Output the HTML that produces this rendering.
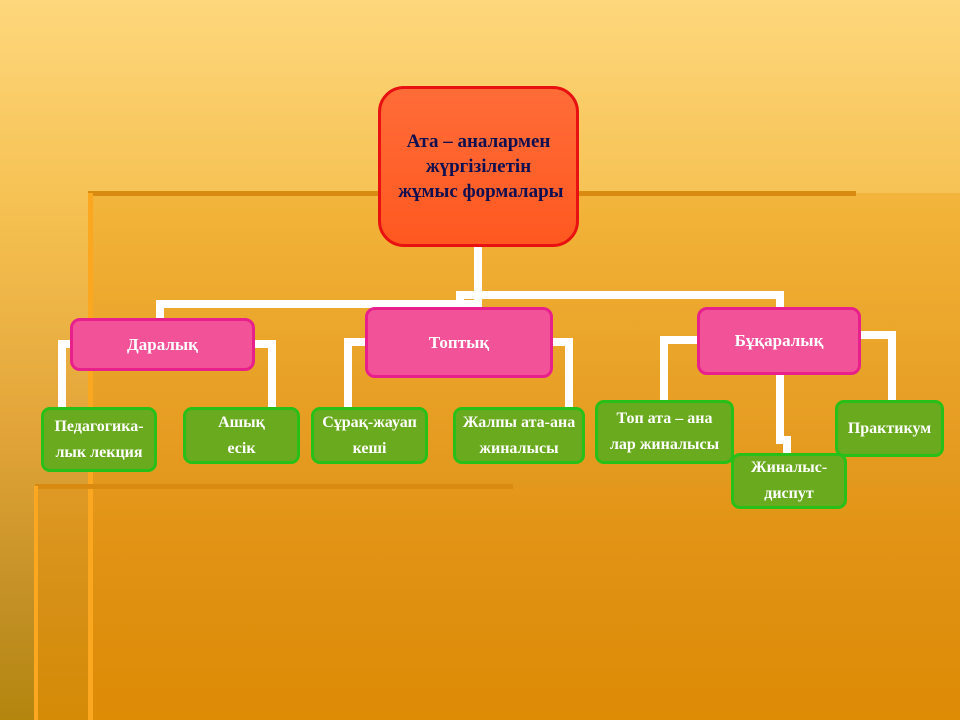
<!DOCTYPE html>
<html><head><meta charset="utf-8"><style>
body{margin:0;width:960px;height:720px;overflow:hidden;position:relative;font-family:"Liberation Serif",serif;
background:linear-gradient(180deg,#fed77c 0%,#f5c050 30%,#e2a438 60%,#c18f24 85%,#b4860e 100%);}
.abs{position:absolute;box-sizing:border-box}
.ov1{left:90px;top:193px;width:870px;height:527px;background:linear-gradient(180deg,rgba(240,170,40,.55),rgba(225,140,10,.85));}
.ov2{left:35px;top:486px;width:925px;height:234px;background:linear-gradient(180deg,rgba(230,150,25,.5),rgba(222,140,5,.8));}
.ln{background:#d98a10}
.w{background:#fff}
.box{display:flex;align-items:center;justify-content:center;text-align:center;font-weight:bold;}
.root{background:linear-gradient(180deg,#ff6c38,#ff5820);border:3px solid #e81010;border-radius:26px;color:#101050;font-size:19px;line-height:25px}
.pk{background:#f25298;border:3px solid #e8208c;border-radius:10px;color:#fff;font-size:17px}
.gr{background:#6aaa1e;border:3px solid #28c018;border-radius:9px;color:#fff;font-size:16px;line-height:26px}
</style></head><body>
<div class="abs ov1"></div>
<div class="abs ov2"></div>
<div class="abs ln" style="left:88px;top:191px;width:768px;height:5px"></div>
<div class="abs" style="left:88px;top:193px;width:5px;height:527px;background:#fba820"></div>
<div class="abs ln" style="left:35px;top:484px;width:478px;height:5px"></div>
<div class="abs" style="left:34px;top:486px;width:4px;height:234px;background:#fba820"></div>

<!-- connectors -->
<div class="abs w" style="left:474px;top:244px;width:8px;height:56px"></div>
<div class="abs w" style="left:456px;top:291px;width:328px;height:8px"></div>
<div class="abs w" style="left:456px;top:291px;width:8px;height:16px"></div>
<div class="abs w" style="left:156px;top:300px;width:326px;height:8px"></div>
<div class="abs w" style="left:156px;top:300px;width:8px;height:20px"></div>
<div class="abs w" style="left:776px;top:291px;width:8px;height:18px"></div>

<div class="abs w" style="left:58px;top:340px;width:14px;height:8px"></div>
<div class="abs w" style="left:58px;top:340px;width:8px;height:76px"></div>
<div class="abs w" style="left:252px;top:340px;width:24px;height:8px"></div>
<div class="abs w" style="left:268px;top:340px;width:8px;height:76px"></div>

<div class="abs w" style="left:344px;top:338px;width:24px;height:8px"></div>
<div class="abs w" style="left:344px;top:338px;width:8px;height:74px"></div>
<div class="abs w" style="left:550px;top:338px;width:23px;height:8px"></div>
<div class="abs w" style="left:565px;top:338px;width:8px;height:74px"></div>

<div class="abs w" style="left:660px;top:336px;width:40px;height:8px"></div>
<div class="abs w" style="left:660px;top:336px;width:8px;height:66px"></div>
<div class="abs w" style="left:858px;top:331px;width:38px;height:8px"></div>
<div class="abs w" style="left:888px;top:331px;width:8px;height:71px"></div>
<div class="abs w" style="left:776px;top:372px;width:8px;height:70px"></div>
<div class="abs w" style="left:776px;top:436px;width:15px;height:8px"></div>
<div class="abs w" style="left:783px;top:436px;width:8px;height:19px"></div>

<div class="abs box root" style="left:378px;top:86px;width:201px;height:161px">Ата – аналармен<br>жүргізілетін<br>&nbsp;жұмыс формалары</div>

<div class="abs box pk" style="left:70px;top:318px;width:185px;height:53px">Даралық</div>
<div class="abs box pk" style="left:365px;top:307px;width:188px;height:71px">Топтық</div>
<div class="abs box pk" style="left:697px;top:307px;width:164px;height:68px">Бұқаралық</div>

<div class="abs box gr" style="left:41px;top:407px;width:116px;height:65px">Педагогика-<br>лык лекция</div>
<div class="abs box gr" style="left:183px;top:407px;width:117px;height:57px">Ашық<br>есік</div>
<div class="abs box gr" style="left:311px;top:407px;width:117px;height:57px">Сұрақ-жауап<br>кеші</div>
<div class="abs box gr" style="left:453px;top:407px;width:132px;height:57px;white-space:nowrap">Жалпы ата-ана<br>жиналысы</div>
<div class="abs box gr" style="left:595px;top:400px;width:139px;height:64px;white-space:nowrap">Топ ата – ана<br>лар жиналысы</div>
<div class="abs box gr" style="left:731px;top:453px;width:116px;height:56px">Жиналыс-<br>диспут</div>
<div class="abs box gr" style="left:835px;top:400px;width:109px;height:57px">Практикум</div>
</body></html>
